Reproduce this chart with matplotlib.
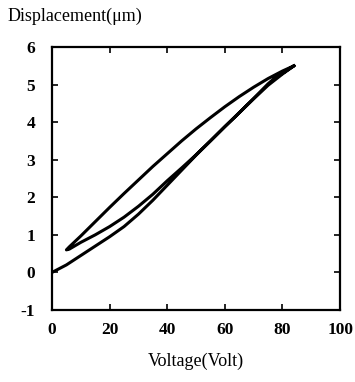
import matplotlib.pyplot as plt

# --- data (voltage in V, displacement in um) ---
# initial loading branch from the origin
v_up1 = [0, 5, 10, 15, 20, 25, 30, 35, 40, 45, 50, 55, 60, 65, 70, 75, 80, 84]
d_up1 = [0.0, 0.2, 0.45, 0.7, 0.95, 1.22, 1.55, 1.92, 2.32, 2.72, 3.12, 3.5, 3.88, 4.25, 4.62, 4.98, 5.28, 5.5]

# unloading branch (upper)
v_down = [84, 80, 75, 70, 65, 60, 55, 50, 45, 40, 35, 30, 25, 20, 15, 10, 6, 5]
d_down = [5.5, 5.36, 5.16, 4.93, 4.68, 4.41, 4.12, 3.82, 3.5, 3.16, 2.82, 2.46, 2.1, 1.73, 1.35, 0.97, 0.68, 0.6]

# re-loading branch (inner)
v_up2 = [5, 6, 10, 15, 20, 25, 30, 35, 40, 45, 50, 55, 60, 65, 70, 75, 78, 80, 84]
d_up2 = [0.6, 0.62, 0.8, 1.0, 1.22, 1.47, 1.76, 2.08, 2.44, 2.78, 3.13, 3.5, 3.88, 4.25, 4.63, 5.02, 5.22, 5.3, 5.5]

x_ticks = [0, 20, 40, 60, 80, 100]
y_ticks = [-1, 0, 1, 2, 3, 4, 5, 6]

plt.rcParams['font.family'] = ['Liberation Serif', 'DejaVu Serif']
plt.rcParams['axes.unicode_minus'] = False

fig = plt.figure(figsize=(3.55, 3.82), dpi=100)
ax = fig.add_axes([0.1465, 0.1885, 0.8115, 0.6885])

v_all = v_up1 + v_down + v_up2
d_all = d_up1 + d_down + d_up2
ax.plot(v_all, d_all, color='black', linewidth=2.2, solid_joinstyle='round')

ax.set_xlim(0, 100)
ax.set_ylim(-1, 6)
ax.set_xticks(x_ticks)
ax.set_yticks(y_ticks)
ax.tick_params(direction='in', length=4, width=1.2, top=True, right=True,
               labelsize=12.5)
ax.tick_params(axis='y', pad=12)
ax.tick_params(axis='x', pad=9)
for lab in ax.get_xticklabels() + ax.get_yticklabels():
    lab.set_fontweight('bold')
for s in ax.spines.values():
    s.set_linewidth(1.6)

fig.text(0.022, 0.958, 'Displacement(\u03bcm)', fontsize=13, ha='left', va='center')
ax.set_xlabel('Voltage(Volt)', fontsize=13, labelpad=10)

fig.savefig('out.png', dpi=100)
